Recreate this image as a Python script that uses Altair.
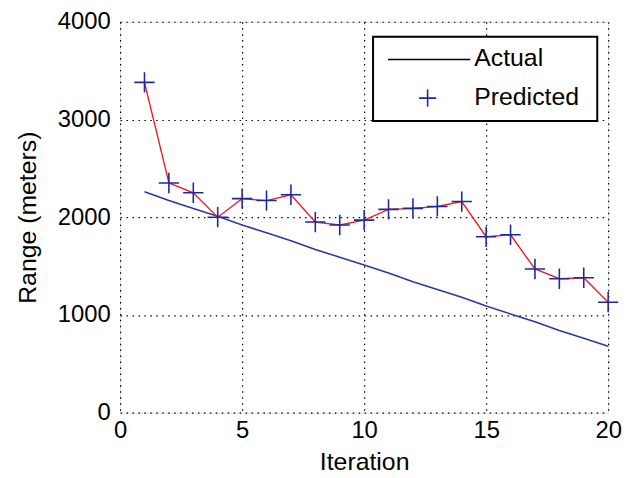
import altair as alt
import pandas as pd

iterations = list(range(1, 21))
actual = [2260, 2170, 2090, 2010, 1920, 1840, 1760, 1670, 1590, 1510,
          1430, 1340, 1260, 1180, 1090, 1010, 930, 840, 760, 680]
predicted = [3380, 2350, 2250, 2000, 2190, 2170, 2230, 1950, 1920, 1970,
             2080, 2090, 2110, 2160, 1800, 1820, 1470, 1370, 1380, 1130]
legend_labels = ["Actual", "Predicted"]

df = pd.DataFrame({"Iteration": iterations, "Actual": actual, "Predicted": predicted})

FONT = "Liberation Sans"
W, H = 492, 394
LS, TS = 24, 25

xscale = alt.Scale(domain=[0, 20], nice=False)
yscale = alt.Scale(domain=[0, 4000], nice=False)

x = alt.X("Iteration:Q", scale=xscale,
          axis=alt.Axis(values=[0, 5, 10, 15, 20], title="Iteration", grid=True,
                        gridColor="black", gridDash=[1.5, 4.5], gridOpacity=1, gridWidth=1.2,
                        ticks=False, domain=False, labelPadding=6, labelFontSize=LS,
                        titleFontSize=TS, titleFontWeight="normal", titlePadding=7,
                        labelFont=FONT, titleFont=FONT, labelColor="black", titleColor="black",
                        labelFlush=False, format="d"))
y_axis = alt.Axis(values=[0, 1000, 2000, 3000, 4000], title="Range (meters)", grid=True,
                  gridColor="black", gridDash=[1.5, 4.5], gridOpacity=1, gridWidth=1.2,
                  ticks=False, domain=False, labelPadding=10, labelFontSize=LS,
                  titleFontSize=TS, titleFontWeight="normal", titlePadding=17,
                  labelFont=FONT, titleFont=FONT, labelColor="black", titleColor="black",
                  labelFlush=False, format="d")

base = alt.Chart(df)

actual_line = base.mark_line(color="#2b3a9c", strokeWidth=1.6).encode(
    x=x, y=alt.Y("Actual:Q", scale=yscale, axis=y_axis))

pred_line = base.mark_line(color="#e8202a", strokeWidth=1.4).encode(
    x=alt.X("Iteration:Q", scale=xscale), y=alt.Y("Predicted:Q", scale=yscale))

pred_pts = base.mark_point(shape="M-1,0L1,0M0,-1L0,1", filled=False, color="#1f2a9a",
                           strokeWidth=1.6, size=420, opacity=1).encode(
    x=alt.X("Iteration:Q", scale=xscale), y=alt.Y("Predicted:Q", scale=yscale))

one = pd.DataFrame({"a": [0]})
leg_box = alt.Chart(one).mark_rect(
    fill="white", stroke="black", strokeWidth=2).encode(
    x=alt.value(255), x2=alt.value(481), y=alt.value(15), y2=alt.value(100))
leg_line = alt.Chart(one).mark_rule(color="black", strokeWidth=1.5).encode(
    x=alt.value(270), x2=alt.value(353), y=alt.value(38))
leg_plus = alt.Chart(one).mark_point(
    shape="M-1,0L1,0M0,-1L0,1", filled=False, color="#1f2a9a", strokeWidth=1.6,
    size=300, opacity=1).encode(x=alt.value(310), y=alt.value(77))
leg_t1 = alt.Chart(one).mark_text(align="left", baseline="middle", font=FONT, fontSize=TS,
                                  color="black", text=legend_labels[0]).encode(
    x=alt.value(357), y=alt.value(37))
leg_t2 = alt.Chart(one).mark_text(align="left", baseline="middle", font=FONT, fontSize=TS,
                                  color="black", text=legend_labels[1]).encode(
    x=alt.value(357), y=alt.value(76))

chart = alt.layer(actual_line, pred_line, pred_pts, leg_box, leg_line, leg_plus, leg_t1, leg_t2).properties(
    width=W, height=H,
    autosize=alt.AutoSizeParams(type="none"),
    padding={"left": 113, "top": 12, "right": 20, "bottom": 60},
).configure_view(stroke="black", strokeWidth=2).configure(background="white")

chart.save("out.html", embed_options={"renderer": "svg", "actions": False})
